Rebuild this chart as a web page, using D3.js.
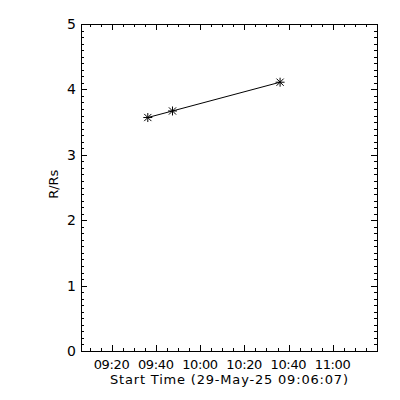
<!DOCTYPE html>
<html>
<head>
<meta charset="utf-8">
<script src="https://cdn.jsdelivr.net/npm/d3@7"></script>
<style>
body { margin: 0; background: #fff; }
svg { display: block; font-family: "DejaVu Sans", sans-serif; }
</style>
</head>
<body>
<script>
// start time of the sequence
var startLabel = "29-May-25 09:06:07";
var startTime = new Date(2025, 4, 29, 9, 6, 7);
var endTime = new Date(2025, 4, 29, 11, 20, 0);

// points: time of observation and height
var times = ["09:36:20", "09:47:30", "10:36:10"];
var heights = [3.57, 3.67, 4.11];

var yTicks = [0, 1, 2, 3, 4, 5];
var xTickLabels = ["09:20", "09:40", "10:00", "10:20", "10:40", "11:00"];

function toDate(s) {
  var p = s.split(":").map(Number);
  return new Date(2025, 4, 29, p[0], p[1], p[2] || 0);
}

var width = 400, height = 400;
var plotL = 81, plotR = 377, plotT = 24, plotB = 351;

var svg = d3.select("body").append("svg").attr("width", width).attr("height", height);

var x = d3.scaleTime().domain([startTime, endTime]).range([plotL, plotR]);
var y = d3.scaleLinear().domain([0, 5]).range([plotB, plotT]);

// frame
svg.append("rect")
  .attr("x", plotL + 0.5).attr("y", plotT + 0.5)
  .attr("width", plotR - plotL).attr("height", plotB - plotT)
  .attr("fill", "none").attr("stroke", "#000").attr("stroke-width", 1);

// ticks (all inward, IDL style)
var minorX = d3.timeMinute.every(5).range(startTime, endTime);
var minorY = d3.range(0, 5.001, 0.1);

var ticks = svg.append("g").attr("stroke", "#000").attr("stroke-width", 1);
minorX.forEach(function(t) {
  var px = Math.round(x(t)) + 0.5;
  var len = (t.getMinutes() % 20 === 0) ? 6 : 3;
  ticks.append("line").attr("x1", px).attr("x2", px).attr("y1", plotB).attr("y2", plotB - len);
  ticks.append("line").attr("x1", px).attr("x2", px).attr("y1", plotT).attr("y2", plotT + len);
});
minorY.forEach(function(v) {
  var py = Math.round(y(v)) + 0.5;
  var len = (Math.abs(v - Math.round(v)) < 1e-6) ? 6 : 3;
  ticks.append("line").attr("x1", plotL).attr("x2", plotL + len).attr("y1", py).attr("y2", py);
  ticks.append("line").attr("x1", plotR).attr("x2", plotR - len).attr("y1", py).attr("y2", py);
});

// tick labels
svg.append("g").selectAll("text").data(xTickLabels).enter().append("text")
  .attr("x", function(d) { return x(toDate(d)); })
  .attr("y", 369)
  .attr("text-anchor", "middle")
  .attr("font-size", 13)
  .attr("textLength", 36)
  .text(function(d) { return d; });

svg.append("g").selectAll("text").data(yTicks).enter().append("text")
  .attr("x", 76)
  .attr("y", function(d) { return y(d) + 5; })
  .attr("text-anchor", "end")
  .attr("font-size", 14)
  .text(function(d) { return d; });

// axis titles
svg.append("text")
  .attr("x", (plotL + plotR) / 2)
  .attr("y", 384)
  .attr("text-anchor", "middle")
  .attr("font-size", 13)
  .attr("textLength", 238)
  .text("Start Time (" + startLabel + ")");

svg.append("text")
  .attr("transform", "translate(58," + y(2.55) + ") rotate(-90)")
  .attr("text-anchor", "middle")
  .attr("font-size", 13)
  .text("R/Rs");

// data line
var pts = times.map(function(t, i) { return [x(toDate(t)), y(heights[i])]; });
svg.append("path")
  .attr("d", d3.line()(pts))
  .attr("fill", "none").attr("stroke", "#000").attr("stroke-width", 1);

// asterisk markers
var r = 4.5;
pts.forEach(function(p) {
  var g = svg.append("g").attr("stroke", "#000").attr("stroke-width", 1);
  g.append("line").attr("x1", p[0]).attr("x2", p[0]).attr("y1", p[1] - r).attr("y2", p[1] + r);
  g.append("line").attr("x1", p[0] - r).attr("x2", p[0] + r).attr("y1", p[1]).attr("y2", p[1]);
  g.append("line").attr("x1", p[0] - r * 0.8).attr("x2", p[0] + r * 0.8).attr("y1", p[1] - r * 0.8).attr("y2", p[1] + r * 0.8);
  g.append("line").attr("x1", p[0] - r * 0.8).attr("x2", p[0] + r * 0.8).attr("y1", p[1] + r * 0.8).attr("y2", p[1] - r * 0.8);
});
</script>
</body>
</html>
